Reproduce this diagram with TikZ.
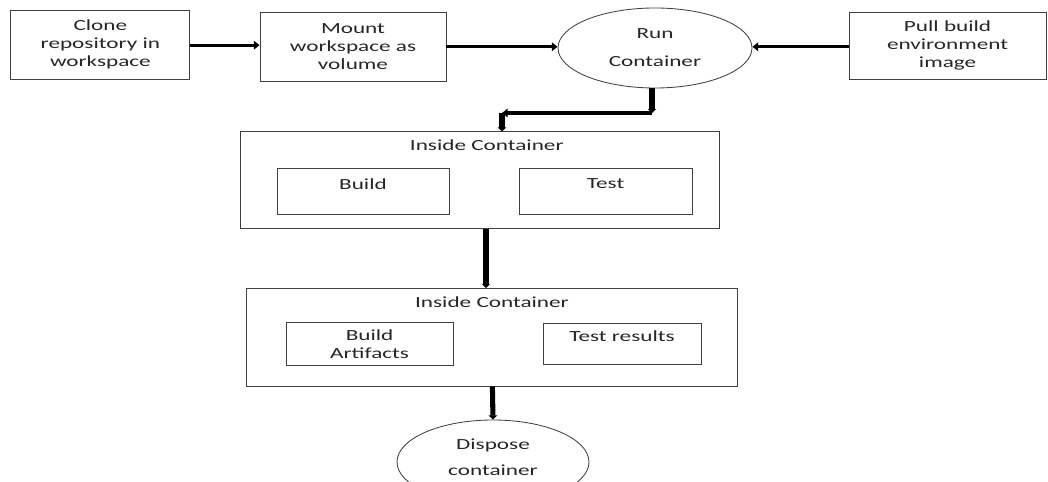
\documentclass[tikz,border=0pt]{standalone}
\usepackage{fontspec}
\setmainfont{Carlito}[FakeStretch=1.5]
\usetikzlibrary{arrows.meta,shapes.geometric}

\begin{document}
\begin{tikzpicture}[
    stepbox/.style={draw=black!75, line width=0.6pt, align=center, inner sep=0pt},
    blob/.style={draw=black!75, line width=0.6pt, ellipse, align=center, inner sep=0pt},
    flow/.style={line width=2.2pt, -{Triangle[length=4pt,width=6pt]}},
    drop/.style={line width=3.6pt, -{Triangle[length=3pt,width=6pt]}},
    every node/.style={font=\fontsize{11}{12.8}\selectfont, text=black!85}
  ]
  \useasboundingbox (0,0) rectangle (26.2,-12.05);
  \clip (0,0) rectangle (26.2,-12.05);

  \node[stepbox, minimum width=4.475cm, minimum height=1.725cm] (clone) at (2.51,-1.12) {Clone\\repository in\\workspace};
  \node[stepbox, minimum width=4.65cm, minimum height=1.725cm] (mount) at (8.825,-1.17) {Mount\\workspace as\\volume};
  \node[blob, minimum width=4.85cm, minimum height=2.0cm] (run) at (16.375,-1.2) {Run\\[0.25cm]Container};
  \node[stepbox, minimum width=4.925cm, minimum height=1.675cm] (pull) at (23.69,-1.14) {Pull build\\environment\\image};

  \node[stepbox, minimum width=11.975cm, minimum height=2.425cm] (inside1) at (12.01,-4.51) {};
  \node (label1) at (12.17,-3.625) {Inside Container};
  \node[stepbox, minimum width=4.3cm, minimum height=1.15cm] (build) at (9.075,-4.775) {};
  \node (buildtxt) at (9.075,-4.6) {Build};
  \node[stepbox, minimum width=4.325cm, minimum height=1.15cm] (test) at (15.14,-4.775) {};
  \node (testtxt) at (15.14,-4.58) {Test};

  \node[stepbox, minimum width=12.275cm, minimum height=2.45cm] (inside2) at (12.31,-8.425) {};
  \node (label2) at (12.3,-7.55) {Inside Container};
  \node[stepbox, minimum width=4.175cm, minimum height=1.075cm] (artifacts) at (9.24,-8.61) {Build\\Artifacts};
  \node[stepbox, minimum width=3.95cm, minimum height=1.025cm] (results) at (15.55,-8.59) {};
  \node (resultstxt) at (15.55,-8.4) {Test results};

  \node[blob, minimum width=4.8cm, minimum height=2.1cm] (dispose) at (12.325,-11.55) {};
  \node[align=center] (disposetxt) at (12.325,-11.44) {Dispose\\[0.2cm]container};

  \coordinate (corner) at (16.3,-2.825);
  \coordinate (bend) at (12.55,-2.825);

  \draw[flow] (clone.east |- 0,-1.13) -- (mount.west |- 0,-1.13);
  \draw[flow] (mount.east |- 0,-1.17) -- (run.west |- 0,-1.17);
  \draw[flow] (pull.west |- 0,-1.17) -- (run.east |- 0,-1.17);
  \draw[drop] (corner |- run.south) -- (corner);
  \draw[flow] (corner) -- (bend);
  \draw[drop] (bend) -- (bend |- inside1.north);
  \draw[drop] (12.15,-5.725) -- (12.15,-7.2);
  \draw[drop] (inside2.south) -- (dispose.north);
\end{tikzpicture}
\end{document}
